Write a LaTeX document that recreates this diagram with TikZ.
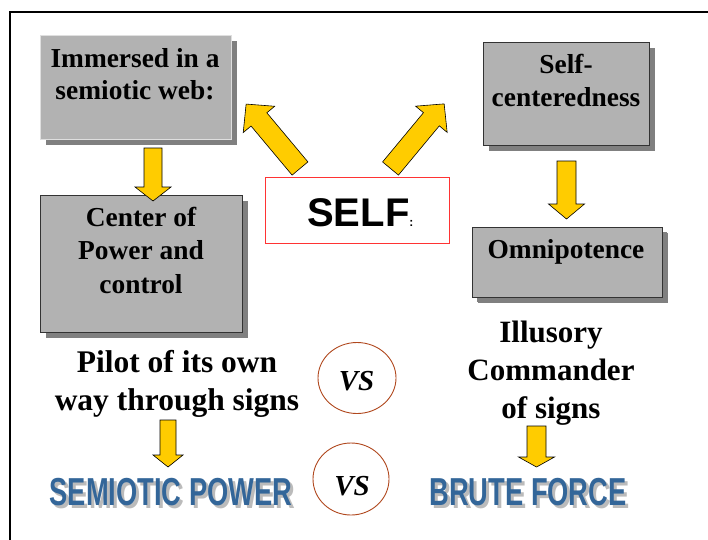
\documentclass[tikz,border=0pt]{standalone}
\usepackage{fontspec}
\setmainfont{Liberation Serif}
\newfontfamily\headfont{Liberation Sans}
\usetikzlibrary{shapes.geometric,shadows}

\definecolor{panelgray}{HTML}{B2B2B2}
\definecolor{shadegray}{HTML}{808080}
\definecolor{edgegray}{HTML}{333333}
\definecolor{arrowyellow}{HTML}{FFCC00}
\definecolor{ringbrown}{RGB}{176,72,30}
\definecolor{powerblue}{RGB}{51,102,153}
\definecolor{echogray}{HTML}{BBBBBB}
\definecolor{selfred}{HTML}{FF3333}

\tikzset{
  panel/.style={rectangle, fill=panelgray, draw=edgegray, line width=1pt,
    inner sep=0pt, outer sep=0pt,
    drop shadow={shadow xshift=6pt, shadow yshift=-6pt, fill=shadegray, opacity=1}},
  % multi-line captions: the base anchor sits on the last line
  paneltext/.style={align=center, inner sep=0pt, anchor=base,
    font=\fontsize{27.4}{33}\selectfont\bfseries},
  bigtext/.style={align=center, inner sep=0pt, anchor=base,
    font=\fontsize{31.5}{38}\selectfont\bfseries},
  vsring/.style={ellipse, draw=ringbrown, line width=0.9pt, inner sep=0pt},
  vstext/.style={inner sep=0pt, anchor=base,
    font=\fontsize{29}{29}\selectfont\bfseries\itshape},
  powertext/.style={inner sep=0pt, anchor=base, xscale=0.7,
    font=\fontsize{39}{39}\selectfont\headfont\bfseries},
  pics/blockarrow/.style args={#1/#2/#3/#4}{code={
    \filldraw[fill=arrowyellow, draw=black, line width=0.6pt, line join=miter]
      (0,-#2) -- (#1-#4,-#2) -- (#1-#4,-#3) -- (#1,0) -- (#1-#4,#3)
      -- (#1-#4,#2) -- (0,#2) -- cycle;}}
}

\begin{document}
\begin{tikzpicture}[x=1pt, y=-1pt]
\useasboundingbox (0,0) rectangle (708,539);

% outer frame (only its top and left edges fall inside the page)
\draw[line width=2.2pt] (10,545) -- (10,12) -- (715,12);

% grey panels with drop shadows
\node[panel, draw=gray!25, minimum width=191, minimum height=104] (web) at (135.5,87) {};
\node[panel, minimum width=166, minimum height=103] (centred) at (566,93.5) {};
\node[panel, minimum width=202, minimum height=137] (power) at (141,263.5) {};
\node[panel, minimum width=190, minimum height=70, drop shadow={shadow xshift=5pt, shadow yshift=-5pt, fill=shadegray, opacity=1}] (omni) at (567,262) {};

% panel captions
\node[paneltext, font=\fontsize{27.4}{32}\selectfont\bfseries] (webtxt) at (135,99) {Immersed in a\\semiotic web:};
\node[paneltext] (centredtxt) at (566,106) {Self-\\centeredness};
\node[paneltext, font=\fontsize{27.4}{33.5}\selectfont\bfseries] (powertxt) at (141,293) {Center of\\Power and\\control};
\node[paneltext] (omnitxt) at (566,258) {Omnipotence};

% central SELF box
\node[rectangle, draw=selfred, line width=0.8pt, minimum width=184, minimum height=66, inner sep=0pt] (self) at (357,210) {};
\node[inner sep=0pt, anchor=base west, font=\fontsize{40}{40}\selectfont\headfont\bfseries] (selftxt) at (307,226) {SELF{\fontsize{12}{12}\selectfont:}};

% descriptions below the panels
\node[bigtext] (pilot) at (177,410) {Pilot of its own\\way through signs};
\node[bigtext, font=\fontsize{31}{38}\selectfont\bfseries] (illusory) at (551,418) {Illusory\\Commander\\of signs};

% VS rings
\node[vsring, minimum width=78, minimum height=71] (vsa) at (357,378) {};
\node[vstext] (vsatxt) at (356.5,390) {VS};
\node[vsring, minimum width=76, minimum height=72] (vsb) at (351,479) {};
\node[vstext] (vsbtxt) at (352,495) {VS};

% headline words with a soft grey echo
\node[powertext, text=echogray] at (174,508) {SEMIOTIC POWER};
\node[powertext, text=powerblue] (semiotic) at (171,505) {SEMIOTIC POWER};
\node[powertext, text=echogray] at (531,508) {BRUTE FORCE};
\node[powertext, text=powerblue] (brute) at (528,505) {BRUTE FORCE};

% yellow block arrows
\coordinate (a1) at (153,148);
\coordinate (a2) at (566.5,161);
\coordinate (a3) at (168,420);
\coordinate (a4) at (536.5,426);
\coordinate (a5) at (300,168.5);
\coordinate (a6) at (390.5,168.5);
\pic[rotate=-90] at (a1) {blockarrow=53/9/18/14};
\pic[rotate=-90] at (a2) {blockarrow=58/9.5/18/15};
\pic[rotate=-90] at (a3) {blockarrow=47/8/15/12};
\pic[rotate=-90] at (a4) {blockarrow=41/9.5/18/10};
\pic[rotate=129.9] at (a5) {blockarrow=84/10.3/20.5/20};
\pic[rotate=50.3] at (a6) {blockarrow=84/10.3/20.5/20};
\end{tikzpicture}
\end{document}
